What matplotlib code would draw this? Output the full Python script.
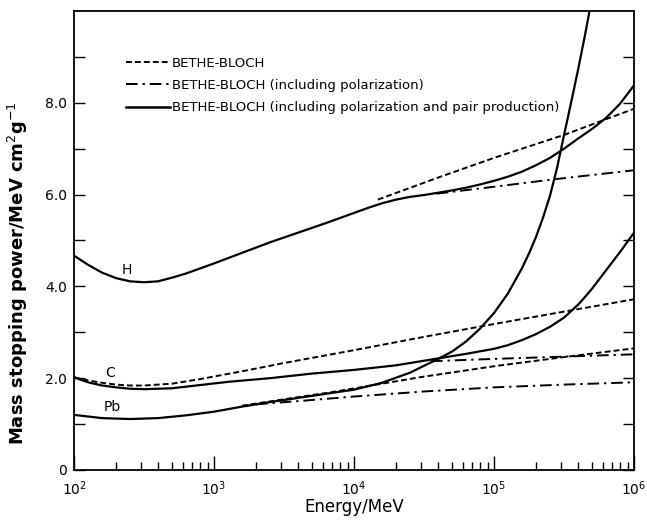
import matplotlib.pyplot as plt
import numpy as np
from matplotlib.lines import Line2D
from matplotlib.ticker import FixedLocator, LogLocator, NullFormatter

# log10(Energy / MeV) and mass stopping power (MeV cm^2 g^-1)
h_full_logE = [2.0, 2.1, 2.2, 2.3, 2.4, 2.5, 2.6, 2.7, 2.8, 2.9, 3.0, 3.2, 3.4,
               3.6, 3.8, 4.0, 4.1, 4.2, 4.3, 4.4, 4.5, 4.6, 4.7, 4.8, 4.9, 5.0,
               5.1, 5.2, 5.3, 5.4, 5.5, 5.6, 5.7, 5.8, 5.9, 6.0]
h_full = [4.67, 4.47, 4.30, 4.18, 4.11, 4.09, 4.11, 4.19, 4.28, 4.39, 4.50, 4.73, 4.96,
          5.17, 5.38, 5.60, 5.71, 5.81, 5.89, 5.95, 5.99, 6.04, 6.09, 6.15, 6.22, 6.30,
          6.39, 6.50, 6.64, 6.80, 7.00, 7.22, 7.43, 7.67, 7.98, 8.38]
h_bb_logE = [4.17, 4.6, 5.0, 5.5, 6.0]
h_bb = [5.89, 6.37, 6.80, 7.30, 7.87]
h_pol_logE = [4.59, 5.0, 5.42, 6.0]
h_pol = [6.02, 6.17, 6.33, 6.53]

c_full_logE = [2.0, 2.1, 2.2, 2.3, 2.4, 2.5, 2.7, 2.9, 3.1, 3.4, 3.7, 4.0, 4.3,
               4.6, 4.8, 5.0, 5.1, 5.2, 5.3, 5.4, 5.5, 5.6, 5.65, 5.7, 5.75, 5.8,
               5.85, 5.9, 5.95, 6.0]
c_full = [2.02, 1.91, 1.84, 1.80, 1.77, 1.76, 1.78, 1.85, 1.92, 2.00, 2.10, 2.18, 2.28,
          2.43, 2.53, 2.64, 2.72, 2.83, 2.96, 3.12, 3.32, 3.60, 3.77, 3.95, 4.15, 4.35,
          4.55, 4.75, 4.96, 5.17]
c_bb_logE = [2.0, 2.1, 2.2, 2.3, 2.4, 2.5, 2.7, 2.9, 3.2, 3.5, 4.0, 4.5, 5.0, 5.5, 6.0]
c_bb = [2.02, 1.95, 1.90, 1.86, 1.84, 1.84, 1.88, 1.98, 2.15, 2.33, 2.61, 2.90, 3.18,
        3.45, 3.72]
c_pol_logE = [4.55, 5.0, 5.5, 6.0]
c_pol = [2.37, 2.42, 2.47, 2.52]

pb_full_logE = [2.0, 2.2, 2.4, 2.6, 2.8, 3.0, 3.2, 3.4, 3.6, 3.8, 4.0, 4.2, 4.4,
                4.6, 4.7, 4.8, 4.9, 5.0, 5.1, 5.2, 5.25, 5.3, 5.35, 5.4, 5.45,
                5.5, 5.55, 5.6, 5.65, 5.7]
pb_full = [1.20, 1.13, 1.11, 1.13, 1.19, 1.27, 1.38, 1.48, 1.57, 1.66, 1.75, 1.90,
           2.12, 2.42, 2.58, 2.80, 3.08, 3.42, 3.85, 4.40, 4.72, 5.08, 5.50, 5.98,
           6.58, 7.30, 8.00, 8.72, 9.48, 10.3]
pb_bb_logE = [3.2, 3.5, 3.85, 4.2, 4.47, 5.0, 5.5, 6.0]
pb_bb = [1.40, 1.54, 1.70, 1.88, 2.02, 2.26, 2.46, 2.65]
pb_pol_logE = [3.3, 3.6, 4.0, 4.5, 5.0, 5.5, 6.0]
pb_pol = [1.43, 1.50, 1.60, 1.71, 1.80, 1.86, 1.91]

element_names = ["H", "C", "Pb"]
name_logE = [2.38, 2.26, 2.27]
name_y = [4.2, 1.95, 1.22]

legend_labels = [
    "BETHE-BLOCH",
    "BETHE-BLOCH (including polarization)",
    "BETHE-BLOCH (including polarization and pair production)",
]

DASHED = (0, (3.0, 1.6))
DASHDOT = (0, (6.0, 2.5, 1.2, 2.5))

f = plt.figure(figsize=(6.47, 5.2), dpi=100)
ax = f.add_axes([0.1144, 0.0962, 0.8656, 0.8827])

curves = [
    (h_full_logE, h_full, "-", 1.6),
    (h_bb_logE, h_bb, DASHED, 1.4),
    (h_pol_logE, h_pol, DASHDOT, 1.4),
    (c_full_logE, c_full, "-", 1.6),
    (c_bb_logE, c_bb, DASHED, 1.4),
    (c_pol_logE, c_pol, DASHDOT, 1.4),
    (pb_full_logE, pb_full, "-", 1.6),
    (pb_bb_logE, pb_bb, DASHED, 1.4),
    (pb_pol_logE, pb_pol, DASHDOT, 1.4),
]
for logE, y, ls, lw in curves:
    ax.plot(10 ** np.array(logE), y, color="black", linestyle=ls, linewidth=lw)

for name, lx, ly in zip(element_names, name_logE, name_y):
    ax.text(10 ** lx, ly, name, fontsize=10, ha="center", va="bottom")

handles = [
    Line2D([], [], color="black", linestyle=DASHED, linewidth=1.4),
    Line2D([], [], color="black", linestyle=DASHDOT, linewidth=1.4),
    Line2D([], [], color="black", linestyle="-", linewidth=1.8),
]
ax.legend(
    handles, legend_labels,
    loc="upper left", bbox_to_anchor=(0.093, 0.90),
    frameon=False, fontsize=9.5, handlelength=3.3, handletextpad=0.15,
    labelspacing=0.7, borderpad=0, borderaxespad=0,
)

ax.set_xscale("log")
ax.set_xlim(1e2, 1e6)
ax.set_ylim(0, 10)

ax.xaxis.set_major_locator(LogLocator(base=10, numticks=10))
ax.xaxis.set_minor_locator(LogLocator(base=10, subs=np.arange(2, 10), numticks=20))
ax.xaxis.set_minor_formatter(NullFormatter())
ax.yaxis.set_major_locator(FixedLocator([0, 2, 4, 6, 8]))
ax.yaxis.set_minor_locator(FixedLocator([1, 3, 5, 7, 9]))
ax.set_yticklabels(["0", "2.0", "4.0", "6.0", "8.0"])

ax.tick_params(axis="both", which="both", direction="in", width=1.0, labelsize=10)
ax.tick_params(axis="x", which="major", length=10, pad=7)
ax.tick_params(axis="x", which="minor", length=6)
ax.tick_params(axis="y", which="both", length=8, right=True, pad=5)

for spine in ax.spines.values():
    spine.set_linewidth(1.3)

ax.set_xlabel("Energy/MeV", fontsize=12, labelpad=0)
ax.set_ylabel("Mass stopping power/MeV cm$^2$g$^{-1}$", fontsize=13,
              fontweight="bold")
ax.yaxis.set_label_coords(-0.078, 0.43)

f.savefig("out.png", dpi=100)
